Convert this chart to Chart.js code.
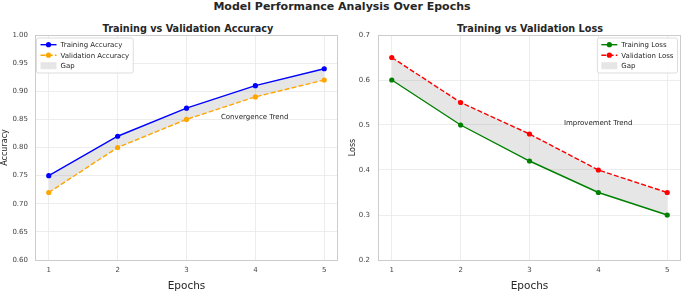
<!DOCTYPE html>
<html>
<head>
<meta charset="utf-8">
<script src="https://cdn.jsdelivr.net/npm/chart.js@4.4.0/dist/chart.umd.min.js"></script>
<style>
  body { margin: 0; background: #fff; width: 685px; height: 295px; position: relative; overflow: hidden;
         font-family: "DejaVu Sans", sans-serif; color: #262626; }
  .title { position: absolute; font-weight: bold; white-space: nowrap; transform: translate(-50%, -50%); }
  #supTitle  { left: 342px; top: 6px;  font-size: 11px; }
  #accTitle  { left: 188px; top: 28px; font-size: 9.7px; }
  #lossTitle { left: 530px; top: 28px; font-size: 9.7px; }
  .box { position: absolute; top: 0; height: 295px; }
  #accBox  { left: 0;     width: 342px; }
  #lossBox { left: 342px; width: 343px; }
</style>
</head>
<body>
<div id="supTitle" class="title">Model Performance Analysis Over Epochs</div>
<div id="accTitle" class="title">Training vs Validation Accuracy</div>
<div id="lossTitle" class="title">Training vs Validation Loss</div>
<div id="accBox" class="box"><canvas id="accChart"></canvas></div>
<div id="lossBox" class="box"><canvas id="lossChart"></canvas></div>

<script>
// ── Data ──────────────────────────────────────────────────────
const epochs    = [1, 2, 3, 4, 5];
const trainAcc  = [0.75, 0.82, 0.87, 0.91, 0.94];
const valAcc    = [0.72, 0.80, 0.85, 0.89, 0.92];
const trainLoss = [0.60, 0.50, 0.42, 0.35, 0.30];
const valLoss   = [0.65, 0.55, 0.48, 0.40, 0.35];

const accTicks  = [0.60, 0.65, 0.70, 0.75, 0.80, 0.85, 0.90, 0.95, 1.00];
const lossTicks = [0.2, 0.3, 0.4, 0.5, 0.6, 0.7];

const accNote  = { text: 'Convergence Trend', x: 3.5, y: 0.85 };
const lossNote = { text: 'Improvement Trend', x: 3.5, y: 0.50 };

// ── Helpers ───────────────────────────────────────────────────
const FONT   = '"DejaVu Sans", sans-serif';
const GAP_BG = 'rgba(128,128,128,0.2)';

const toPoints = (ys) => epochs.map((e, i) => ({ x: e, y: ys[i] }));

const lineSet = (label, ys, color, dash) => ({
  label,
  data:                 toPoints(ys),
  borderColor:          color,
  backgroundColor:      color,
  borderWidth:          1.4,
  borderDash:           dash,
  pointRadius:          2.6,
  pointBackgroundColor: color,
  pointBorderWidth:     0,
  fill:                 false,
  tension:              0
});

const gapSet = (ys) => ({
  label:           'Gap',
  isGap:           true,
  data:            toPoints(ys),
  borderWidth:     0,
  pointRadius:     0,
  backgroundColor: GAP_BG,
  fill:            0
});

// ── Plugins ───────────────────────────────────────────────────
const framePlugin = {
  id: 'frame',
  beforeDatasetsDraw(chart) {
    const { ctx, chartArea: a } = chart;
    ctx.save();
    ctx.strokeStyle = '#cccccc';
    ctx.lineWidth = 1;
    ctx.strokeRect(Math.round(a.left) + 0.5, Math.round(a.top) + 0.5,
                   Math.round(a.right - a.left) - 1, Math.round(a.bottom - a.top));
    ctx.restore();
  }
};

const notePlugin = {
  id: 'note',
  afterDatasetsDraw(chart, args, opts) {
    const { ctx, scales } = chart;
    ctx.save();
    ctx.font = '7px ' + FONT;
    ctx.fillStyle = '#262626';
    ctx.textAlign = 'left';
    ctx.textBaseline = 'alphabetic';
    ctx.fillText(opts.text, scales.x.getPixelForValue(opts.x), scales.y.getPixelForValue(opts.y));
    ctx.restore();
  }
};

const legendPlugin = {
  id: 'boxLegend',
  afterDraw(chart, args, opts) {
    const { ctx, chartArea: a } = chart;
    const sets  = chart.data.datasets;
    const rowH  = 10.5, pad = 4, handle = 16;
    ctx.save();
    ctx.font = '7px ' + FONT;
    const textW = Math.max(...sets.map(d => ctx.measureText(d.label).width));
    const w = pad + handle + 4 + textW + pad;
    const h = sets.length * rowH + 3.5;
    const x = opts.align === 'left' ? a.left + 1.5 : a.right - 3.5 - w;
    const y = a.top + 3;

    ctx.fillStyle = 'rgba(255,255,255,0.85)';
    ctx.strokeStyle = '#d4d4d4';
    ctx.lineWidth = 0.8;
    ctx.beginPath();
    ctx.roundRect(x, y, w, h, 2);
    ctx.fill();
    ctx.stroke();

    sets.forEach((d, i) => {
      const cy = y + 6.7 + i * rowH;
      const hx = x + pad;
      if (d.isGap) {
        ctx.fillStyle = GAP_BG;
        ctx.fillRect(hx, cy - 3.5, handle, 7);
      } else {
        ctx.strokeStyle = d.borderColor;
        ctx.lineWidth = d.borderWidth;
        ctx.setLineDash(d.borderDash || []);
        ctx.beginPath();
        ctx.moveTo(hx, cy);
        ctx.lineTo(hx + handle, cy);
        ctx.stroke();
        ctx.setLineDash([]);
        ctx.fillStyle = d.borderColor;
        ctx.beginPath();
        ctx.arc(hx + handle / 2, cy, d.pointRadius, 0, Math.PI * 2);
        ctx.fill();
      }
      ctx.fillStyle = '#262626';
      ctx.textAlign = 'left';
      ctx.textBaseline = 'middle';
      ctx.fillText(d.label, hx + handle + 4, cy + 0.5);
    });
    ctx.restore();
  }
};

// ── Chart factory ─────────────────────────────────────────────
const makeChart = (canvasId, cfg) => new Chart(document.getElementById(canvasId), {
  type: 'line',
  data: { datasets: cfg.datasets },
  plugins: [framePlugin, notePlugin, legendPlugin],
  options: {
    animation: false,
    responsive: true,
    maintainAspectRatio: false,
    events: [],
    layout: { padding: { top: 35, right: 2, left: 0, bottom: 0 } },
    plugins: {
      legend:    { display: false },
      tooltip:   { enabled: false },
      note:      cfg.note,
      boxLegend: { align: cfg.legendAlign }
    },
    scales: {
      x: {
        type: 'linear',
        min: 0.8,
        max: 5.2,
        afterBuildTicks: s => { s.ticks = epochs.map(v => ({ value: v })); },
        afterFit: s => { s.height = 35; },
        ticks:  { color: '#444', font: { family: FONT, size: 7 }, padding: 6, maxRotation: 0 },
        grid:   { color: '#e8e8e8', lineWidth: 0.8, drawTicks: false },
        border: { display: false },
        title:  { display: true, text: 'Epochs', color: '#262626',
                  font: { family: FONT, size: 10.5 }, padding: { top: 0, bottom: 2 } }
      },
      y: {
        min: cfg.yTicks[0],
        max: cfg.yTicks[cfg.yTicks.length - 1],
        afterBuildTicks: s => { s.ticks = cfg.yTicks.map(v => ({ value: v })); },
        afterFit: s => { s.width = cfg.yWidth; },
        ticks:  { color: '#444', font: { family: FONT, size: 7 }, padding: cfg.tickPad,
                  callback: v => v.toFixed(cfg.decimals) },
        grid:   { color: '#e8e8e8', lineWidth: 0.8, drawTicks: false },
        border: { display: false },
        title:  { display: true, text: cfg.yLabel, color: '#262626',
                  font: { family: FONT, size: 8 }, padding: { top: cfg.yTitlePad, bottom: 0 } }
      }
    }
  }
});

// ── Init ──────────────────────────────────────────────────────
makeChart('accChart', {
  datasets: [
    lineSet('Training Accuracy', trainAcc, '#0000ff', []),
    lineSet('Validation Accuracy', valAcc, '#ffa500', [5, 2.2]),
    gapSet(valAcc)
  ],
  yTicks: accTicks, decimals: 2, yLabel: 'Accuracy',
  yWidth: 35, tickPad: 7, yTitlePad: 0,
  legendAlign: 'left', note: accNote
});

makeChart('lossChart', {
  datasets: [
    lineSet('Training Loss', trainLoss, '#008000', []),
    lineSet('Validation Loss', valLoss, '#ff0000', [5, 2.2]),
    gapSet(valLoss)
  ],
  yTicks: lossTicks, decimals: 1, yLabel: 'Loss',
  yWidth: 36, tickPad: 8, yTitlePad: 6,
  legendAlign: 'right', note: lossNote
});
</script>
</body>
</html>
